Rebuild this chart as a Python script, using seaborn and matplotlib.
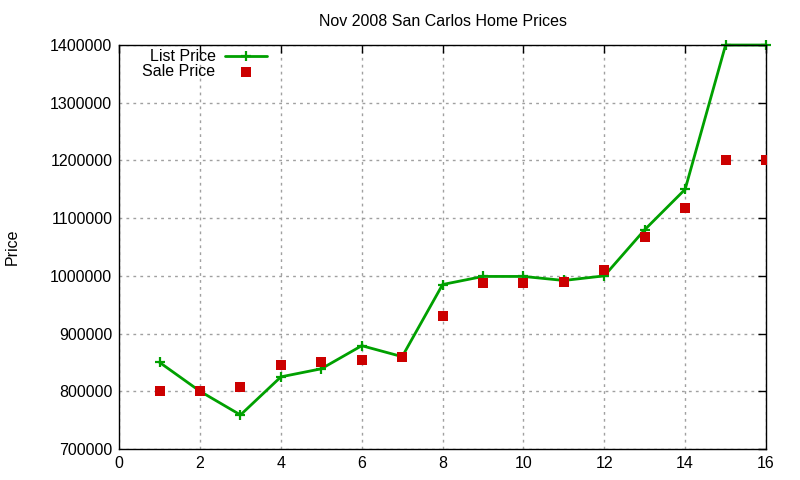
import matplotlib
matplotlib.use("Agg")
import matplotlib.pyplot as plt
import seaborn as sns
import pandas as pd

# values
homes = list(range(1, 17))
list_price = [850000, 800000, 759000, 825000, 839000, 879000, 860000, 985000,
              999000, 999000, 992000, 1000000, 1080000, 1150000, 1400000, 1400000]
sale_price = [800000, 800000, 808000, 845000, 850000, 854000, 859000, 931000,
              988000, 988000, 990000, 1011000, 1067000, 1117000, 1200000, 1200000]
x_ticks = [0, 2, 4, 6, 8, 10, 12, 14, 16]
y_ticks = [700000, 800000, 900000, 1000000, 1100000, 1200000, 1300000, 1400000]

df = pd.DataFrame({"home": homes, "list": list_price, "sale": sale_price})

sns.set_style("white")
plt.rcParams['font.family'] = ['Liberation Sans', 'DejaVu Sans']
plt.rcParams['text.color'] = 'black'
plt.rcParams['axes.labelcolor'] = 'black'

fig = plt.figure(figsize=(8, 4.8), dpi=100)
ax = fig.add_axes([0.149, 0.0646, 0.8085, 0.8416])

green = "#00a000"
red = "#cc0000"

sns.lineplot(data=df, x="home", y="list", ax=ax, color=green, linewidth=2,
             marker="+", markersize=7.5, markeredgewidth=1.6, markeredgecolor=green,
             label="List Price")
sns.scatterplot(data=df, x="home", y="sale", ax=ax, color=red, marker="s",
                s=55, linewidth=0, label="Sale Price", zorder=3)
# gnuplot draws points sitting on the border unclipped
ax.lines[0].set_clip_on(False)

ax.set_xlim(0, 16)
ax.set_ylim(700000, 1400000)
ax.set_xticks(x_ticks)
ax.set_yticks(y_ticks)
ax.set_xticklabels([str(t) for t in x_ticks])
ax.set_yticklabels([str(t) for t in y_ticks])
ax.tick_params(direction="in", top=True, right=True, length=6, width=1,
               labelsize=11.5, colors="black", pad=5)
ax.grid(True, color="#a0a0a0", linestyle=(0, (2, 3)), linewidth=1)
for s in ax.spines.values():
    s.set_color("black")
    s.set_linewidth(1)

ax.set_xlabel("")
ax.set_ylabel("Price", fontsize=11.5, labelpad=22, color="black")
ax.set_title("Nov 2008 San Carlos Home Prices", fontsize=11.5, pad=14, color="black")

ax.legend(loc="upper left", frameon=False, markerfirst=False, fontsize=11.5,
          handlelength=2.6, borderaxespad=0.0, labelspacing=0.0,
          handletextpad=0.6, bbox_to_anchor=(0.026, 1.005))

fig.savefig("out.png", dpi=100)
